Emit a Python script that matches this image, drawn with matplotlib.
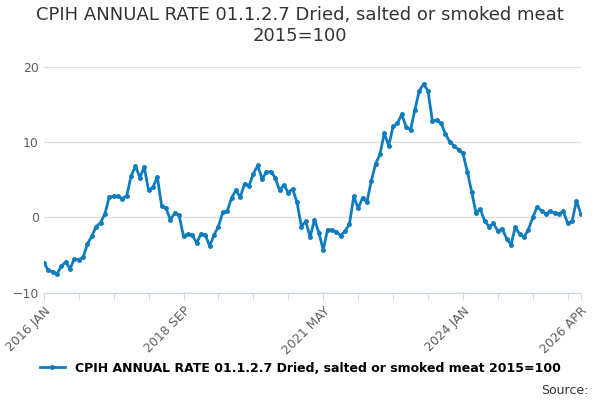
import numpy as np
import matplotlib.pyplot as plt

values = [
    -6.0, -7.0, -7.2, -7.5, -6.5, -5.9, -6.8, -5.5, -5.6, -5.3, -3.5, -2.5,
    -1.2, -0.7, 0.5, 2.7, 2.8, 2.8, 2.5, 2.9, 5.5, 6.8, 5.3, 6.7,
    3.6, 4.0, 5.4, 1.5, 1.2, -0.3, 0.6, 0.3, -2.5, -2.2, -2.3, -3.4,
    -2.2, -2.3, -3.8, -2.3, -1.2, 0.7, 0.8, 2.6, 3.6, 2.7, 4.5, 4.2,
    5.8, 6.9, 5.1, 6.0, 6.1, 5.3, 3.6, 4.3, 3.3, 3.8, 2.0, -1.2,
    -0.5, -2.6, -0.3, -2.0, -4.3, -1.6, -1.7, -1.9, -2.4, -1.8, -0.9, 2.8,
    1.2, 2.6, 2.0, 4.8, 7.1, 8.4, 11.2, 9.5, 12.1, 12.5, 13.7, 12.0,
    11.6, 14.3, 16.8, 17.7, 16.8, 12.8, 12.9, 12.5, 11.1, 10.0, 9.5, 9.0,
    8.5, 6.1, 3.4, 0.6, 1.1, -0.5, -1.2, -0.8, -1.8, -1.5, -2.8, -3.6,
    -1.3, -2.2, -2.6, -1.6, 0.0, 1.4, 0.9, 0.5, 0.8, 0.6, 0.5, 0.8,
    -0.8, -0.5, 2.2, 0.5,
]
tick_pos = [0, 32, 64, 96, 123]
tick_labels = ["2016 JAN", "2018 SEP", "2021 MAY", "2024 JAN", "2026 APR"]
label = "CPIH ANNUAL RATE 01.1.2.7 Dried, salted or smoked meat 2015=100"
color = "#0F7CC0"

fig = plt.figure(figsize=(6, 4), dpi=100)
ax = fig.add_axes([0.073, 0.268, 0.895, 0.565])
x = np.arange(len(values))
ax.plot(x, values, color=color, lw=2, marker="o", ms=2.5, label=label)
ax.set_xlim(0, 123)
ax.set_ylim(-10, 20)
ax.set_yticks([-10, 0, 10, 20])
ax.set_xticks(tick_pos)
ax.set_xticklabels(tick_labels, rotation=45, ha="right", rotation_mode="anchor")
ax.set_xticks(np.arange(0, 124, 8), minor=True)
ax.grid(axis="y", color="#e0e0e0", lw=1)
ax.set_axisbelow(True)
for s in ["top", "right", "left"]:
    ax.spines[s].set_visible(False)
ax.spines["bottom"].set_color("#ccd6eb")
ax.tick_params(axis="y", length=0, colors="#606060", labelsize=9)
ax.tick_params(axis="x", which="both", color="#ccd6eb", colors="#606060", labelsize=9, length=5)
fig.suptitle("CPIH ANNUAL RATE 01.1.2.7 Dried, salted or smoked meat\n2015=100",
             fontsize=13, color="#333333", y=0.985)
fig.legend(loc="lower center", bbox_to_anchor=(0.5, 0.035), frameon=False,
           fontsize=9, prop={"weight": "bold", "size": 9}, handlelength=2)
fig.text(0.98, 0.015, "Source:", ha="right", fontsize=9, color="#333333")
fig.savefig("out.png")
